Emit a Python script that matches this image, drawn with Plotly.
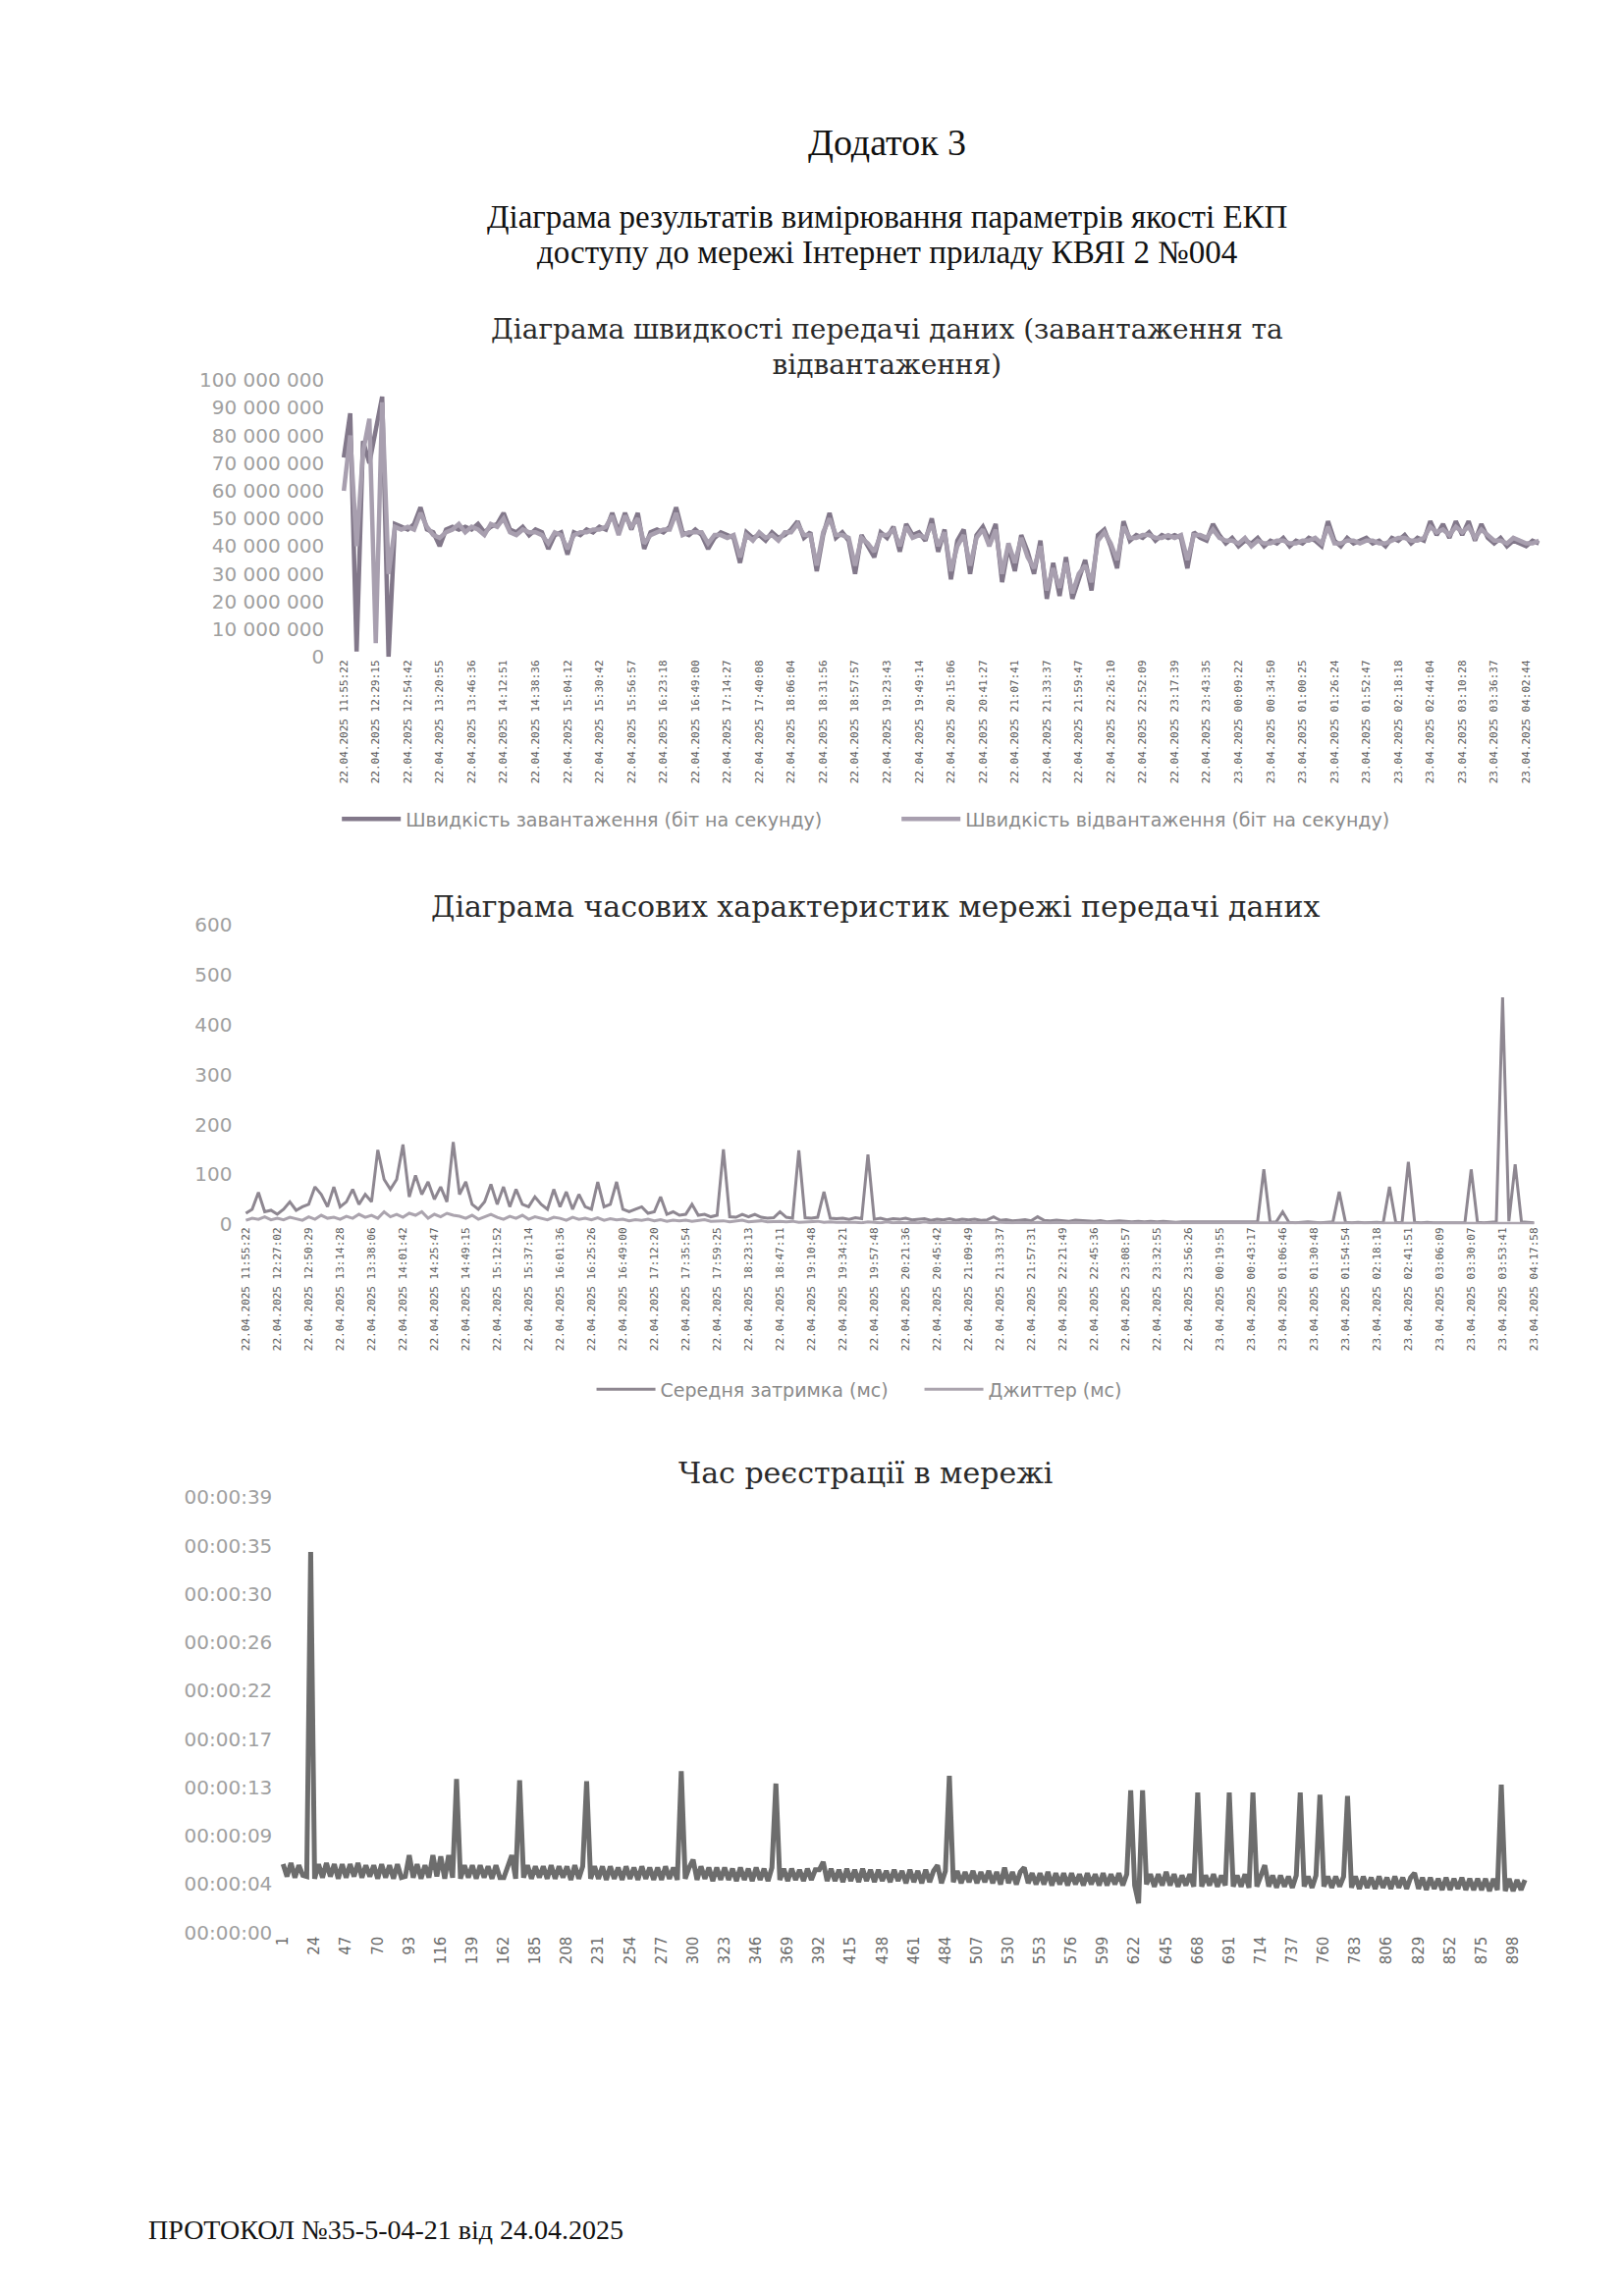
import plotly.graph_objects as go

# page size (px) of the scanned sheet; the html body keeps its default 8px margin,
# so the figure is made 16px smaller and page positions are shifted by that margin
W = 1653
H = 2339
BODY = 8
FW = W - 2 * BODY
FH = H - 2 * BODY

# ---------------- chart 1: download / upload speed (Mbit/s, 5 points per label step) ----------------
c1_labels = [
    "22.04.2025 11:55:22", "22.04.2025 12:29:15", "22.04.2025 12:54:42", "22.04.2025 13:20:55",
    "22.04.2025 13:46:36", "22.04.2025 14:12:51", "22.04.2025 14:38:36", "22.04.2025 15:04:12",
    "22.04.2025 15:30:42", "22.04.2025 15:56:57", "22.04.2025 16:23:18", "22.04.2025 16:49:00",
    "22.04.2025 17:14:27", "22.04.2025 17:40:08", "22.04.2025 18:06:04", "22.04.2025 18:31:56",
    "22.04.2025 18:57:57", "22.04.2025 19:23:43", "22.04.2025 19:49:14", "22.04.2025 20:15:06",
    "22.04.2025 20:41:27", "22.04.2025 21:07:41", "22.04.2025 21:33:37", "22.04.2025 21:59:47",
    "22.04.2025 22:26:10", "22.04.2025 22:52:09", "22.04.2025 23:17:39", "22.04.2025 23:43:35",
    "23.04.2025 00:09:22", "23.04.2025 00:34:50", "23.04.2025 01:00:25", "23.04.2025 01:26:24",
    "23.04.2025 01:52:47", "23.04.2025 02:18:18", "23.04.2025 02:44:04", "23.04.2025 03:10:28",
    "23.04.2025 03:36:37", "23.04.2025 04:02:44",
]
c1_names = ["Швидкість завантаження (біт на секунду)", "Швидкість відвантаження (біт на секунду)"]
c1_yticks = [0, 10e6, 20e6, 30e6, 40e6, 50e6, 60e6, 70e6, 80e6, 90e6, 100e6]
c1_ytext = ["0", "10 000 000", "20 000 000", "30 000 000", "40 000 000", "50 000 000",
            "60 000 000", "70 000 000", "80 000 000", "90 000 000", "100 000 000"]

download_mbps = [
    72, 88, 2, 78, 70,   82, 94, 0, 48, 47,   46, 48, 54, 46, 45,   40, 46, 47, 46, 47,
    46, 48, 45, 47, 48,  52, 46, 45, 47, 44,  46, 45, 39, 44, 45,   37, 45, 44, 46, 45,
    47, 46, 52, 45, 52,  46, 52, 39, 45, 46,  45, 47, 54, 45, 44,   46, 44, 39, 43, 45,
    44, 43, 34, 45, 43,  44, 42, 45, 43, 44,  46, 49, 43, 45, 31,   44, 52, 43, 45, 42,
    30, 44, 40, 36, 45,  43, 47, 38, 48, 44,  45, 42, 50, 38, 46,   28, 42, 46, 30, 44,
    47, 42, 48, 27, 40,  31, 44, 38, 30, 42,  21, 34, 22, 36, 21,   28, 35, 24, 44, 46,
    40, 32, 49, 42, 44,  43, 45, 42, 44, 43,  44, 43, 32, 45, 43,   42, 48, 44, 41, 43,
    40, 42, 41, 43, 40,  42, 41, 43, 40, 42,  41, 43, 42, 40, 49,   42, 40, 43, 41, 42,
    43, 41, 42, 40, 43,  42, 44, 41, 43, 42,  49, 44, 48, 43, 49,   44, 49, 42, 48, 43,
    41, 43, 40, 42, 41,  40, 42, 41,
]
upload_mbps = [
    60, 80, 40, 74, 86,  5, 92, 30, 47, 46,   47, 46, 52, 47, 44,   43, 45, 46, 48, 45,
    47, 46, 44, 48, 47,  50, 45, 44, 46, 45,  45, 44, 41, 45, 44,   39, 44, 45, 45, 46,
    46, 47, 51, 44, 51,  47, 50, 41, 44, 45,  46, 46, 52, 44, 45,   45, 45, 41, 44, 44,
    43, 44, 36, 44, 42,  45, 43, 44, 42, 45,  45, 48, 44, 44, 33,   45, 50, 44, 44, 43,
    33, 43, 41, 38, 44,  44, 46, 40, 47, 43,  44, 43, 48, 40, 45,   31, 40, 44, 33, 43,
    46, 40, 46, 30, 41,  34, 43, 36, 32, 40,  24, 32, 25, 34, 23,   30, 33, 27, 42, 45,
    41, 35, 47, 43, 43,  44, 44, 43, 43, 44,  43, 44, 35, 44, 44,   43, 46, 43, 42, 42,
    41, 43, 40, 42, 41,  41, 42, 42, 41, 41,  42, 42, 43, 41, 47,   41, 41, 42, 42, 41,
    42, 42, 41, 41, 42,  43, 43, 42, 42, 43,  47, 45, 46, 44, 47,   45, 47, 43, 46, 44,
    42, 42, 41, 43, 42,  41, 41, 42,
]

# ---------------- chart 2: latency / jitter (ms, 5 points per label step) ----------------
c2_labels = [
    "22.04.2025 11:55:22", "22.04.2025 12:27:02", "22.04.2025 12:50:29", "22.04.2025 13:14:28",
    "22.04.2025 13:38:06", "22.04.2025 14:01:42", "22.04.2025 14:25:47", "22.04.2025 14:49:15",
    "22.04.2025 15:12:52", "22.04.2025 15:37:14", "22.04.2025 16:01:36", "22.04.2025 16:25:26",
    "22.04.2025 16:49:00", "22.04.2025 17:12:20", "22.04.2025 17:35:54", "22.04.2025 17:59:25",
    "22.04.2025 18:23:13", "22.04.2025 18:47:11", "22.04.2025 19:10:48", "22.04.2025 19:34:21",
    "22.04.2025 19:57:48", "22.04.2025 20:21:36", "22.04.2025 20:45:42", "22.04.2025 21:09:49",
    "22.04.2025 21:33:37", "22.04.2025 21:57:31", "22.04.2025 22:21:49", "22.04.2025 22:45:36",
    "22.04.2025 23:08:57", "22.04.2025 23:32:55", "22.04.2025 23:56:26", "23.04.2025 00:19:55",
    "23.04.2025 00:43:17", "23.04.2025 01:06:46", "23.04.2025 01:30:48", "23.04.2025 01:54:54",
    "23.04.2025 02:18:18", "23.04.2025 02:41:51", "23.04.2025 03:06:09", "23.04.2025 03:30:07",
    "23.04.2025 03:53:41", "23.04.2025 04:17:58",
]
c2_names = ["Середня затримка (мс)", "Джиттер (мс)"]
c2_yticks = [0, 100, 200, 300, 400, 500, 600]

latency_ms = [
    22, 30, 64, 25, 28,   20, 30, 45, 28, 35,   40, 75, 60, 35, 75,   35, 45, 70, 40, 60,
    45, 149, 90, 70, 90,  160, 55, 98, 60, 85,  50, 75, 45, 165, 60,  85, 40, 30, 45, 80,
    40, 75, 35, 70, 40,   35, 55, 40, 30, 70,   35, 65, 30, 60, 35,   30, 85, 35, 40, 85,
    30, 25, 30, 35, 22,   25, 55, 20, 25, 18,   20, 40, 18, 20, 15,   18, 150, 15, 14, 20,
    15, 20, 14, 12, 13,   25, 14, 12, 148, 13,  12, 14, 65, 12, 11,   12, 10, 13, 11, 140,
    10, 12, 9, 11, 10,    12, 9, 10, 11, 8,     10, 9, 11, 8, 10,     9, 10, 8, 9, 15,
    8, 9, 7, 8, 9,        7, 15, 8, 7, 8,       7, 6, 8, 7, 6,        6, 7, 5, 6, 7,
    6, 5, 6, 5, 6,        5, 6, 5, 4, 5,        5, 4, 5, 4, 5,        4, 5, 4, 5, 4,
    4, 5, 110, 4, 5,      25, 4, 3, 4, 5,       4, 3, 4, 5, 65,       4, 3, 4, 3, 4,
    4, 3, 75, 4, 3,       125, 4, 3, 4, 3,      3, 4, 3, 4, 3,        110, 4, 3, 4, 5,
    455, 6, 120, 5, 4,    3,
]
jitter_ms = [
    8, 12, 10, 15, 9,     12, 9, 14, 11, 8,     15, 10, 18, 12, 14,   10, 16, 12, 20, 14,
    18, 12, 25, 15, 20,   14, 22, 18, 25, 12,   20, 15, 22, 18, 16,   12, 18, 10, 15, 20,
    14, 10, 16, 12, 18,   10, 15, 12, 9, 14,    12, 8, 14, 10, 12,    9, 13, 8, 11, 9,
    10, 7, 9, 8, 10,      7, 9, 6, 8, 7,        8, 6, 7, 9, 6,        6, 7, 5, 6, 8,
    5, 6, 7, 5, 6,        6, 5, 6, 4, 5,        5, 6, 4, 5, 4,        4, 5, 4, 3, 5,
    4, 3, 5, 3, 4,        3, 4, 3, 5, 3,        4, 3, 4, 3, 4,        3, 4, 3, 4, 3,
    4, 3, 3, 4, 3,        3, 4, 3, 3, 4,        3, 3, 4, 3, 3,        3, 4, 3, 3, 2,
    3, 2, 3, 3, 2,        2, 3, 2, 3, 2,        3, 2, 2, 3, 2,        2, 3, 2, 2, 3,
    2, 2, 3, 2, 2,        3, 2, 2, 3, 2,        2, 2, 3, 2, 2,        2, 3, 2, 2, 3,
    2, 2, 3, 2, 2,        3, 2, 2, 3, 2,        2, 3, 2, 2, 3,        2, 2, 3, 2, 2,
    3, 2, 2, 3, 2,        2,
]

# ---------------- chart 3: registration time (seconds, 8 points per label step) ----------------
c3_labels = ["1", "24", "47", "70", "93", "116", "139", "162", "185", "208", "231", "254", "277",
             "300", "323", "346", "369", "392", "415", "438", "461", "484", "507", "530", "553",
             "576", "599", "622", "645", "668", "691", "714", "737", "760", "783", "806", "829",
             "852", "875", "898"]
c3_yticks = [0, 4.32, 8.64, 12.96, 17.28, 21.6, 25.92, 30.24, 34.56, 38.88]
c3_ytext = ["00:00:00", "00:00:04", "00:00:09", "00:00:13", "00:00:17", "00:00:22",
            "00:00:26", "00:00:30", "00:00:35", "00:00:39"]

reg_time_s = [
    6.1, 5.0, 6.2, 4.9, 6.0, 5.1, 5.0, 34.0,   4.8, 6.1, 4.9, 6.2, 5.0, 6.1, 4.8, 6.1,
    4.9, 6.1, 5.0, 6.2, 4.9, 6.0, 5.0, 6.0,    4.8, 6.1, 4.9, 6.0, 4.8, 6.1, 4.9, 5.0,
    6.9, 4.9, 6.1, 4.8, 6.0, 4.9, 6.9, 5.0,    6.8, 4.8, 6.9, 4.9, 13.7, 4.8, 6.0, 4.9,
    6.0, 4.8, 6.0, 4.9, 5.9, 4.8, 6.0, 4.9,    4.9, 5.9, 6.9, 4.8, 13.6, 4.9, 6.0, 4.8,
    5.9, 4.9, 5.9, 4.8, 6.0, 4.8, 5.9, 4.9,    5.9, 4.7, 6.0, 4.8, 5.9, 13.5, 4.8, 5.9,
    4.8, 5.9, 4.7, 5.9, 4.8, 5.8, 4.7, 5.9,    4.8, 5.8, 4.7, 5.9, 4.8, 5.8, 4.7, 5.8,
    4.7, 5.9, 4.8, 5.8, 4.7, 14.4, 4.8, 5.8,   6.5, 4.7, 5.9, 4.8, 5.8, 4.6, 5.8, 4.7,
    5.8, 4.7, 5.7, 4.6, 5.8, 4.7, 5.7, 4.6,    5.8, 4.7, 5.7, 4.6, 5.8, 13.3, 4.7, 5.7,
    4.6, 5.7, 4.7, 5.6, 4.6, 5.7, 4.7, 5.6,    5.6, 6.3, 4.6, 5.7, 4.6, 5.6, 4.5, 5.7,
    4.6, 5.6, 4.5, 5.7, 4.6, 5.6, 4.5, 5.6,    4.6, 5.5, 4.5, 5.6, 4.6, 5.5, 4.4, 5.6,
    4.5, 5.5, 4.4, 5.6, 4.5, 5.5, 6.0, 4.4,    5.5, 14.0, 4.5, 5.5, 4.4, 5.4, 4.5, 5.5,
    4.4, 5.4, 4.5, 5.5, 4.4, 5.4, 4.3, 5.8,    4.4, 5.4, 4.3, 5.4, 5.8, 4.4, 5.3, 4.3,
    5.3, 4.3, 5.4, 4.2, 5.3, 4.3, 5.3, 4.2,    5.3, 4.3, 5.2, 4.2, 5.3, 4.3, 5.2, 4.2,
    5.3, 4.2, 5.2, 4.3, 5.3, 4.2, 5.2, 12.7,   4.2, 2.6, 12.7, 4.3, 5.2, 4.1, 5.2, 4.2,
    5.4, 4.2, 5.2, 4.1, 5.1, 4.2, 5.2, 4.1,    12.5, 4.1, 5.1, 4.2, 5.2, 4.1, 5.1, 4.2,
    12.5, 4.1, 5.1, 4.1, 5.2, 4.0, 12.5, 4.1,  5.1, 6.0, 4.1, 5.1, 4.0, 5.1, 4.1, 5.0,
    4.0, 5.1, 12.5, 4.1, 5.0, 4.0, 5.1, 12.3,  4.1, 5.0, 4.0, 5.0, 4.1, 5.0, 12.2, 4.0,
    5.0, 3.9, 5.0, 4.0, 4.9, 3.9, 5.0, 4.0,    4.9, 3.9, 5.0, 4.0, 4.9, 3.9, 4.9, 5.3,
    3.9, 4.9, 3.8, 4.9, 3.9, 4.8, 3.8, 4.9,    3.8, 4.8, 3.9, 4.9, 3.8, 4.8, 3.8, 4.8,
    3.8, 4.8, 3.7, 4.8, 3.8, 13.2, 3.7, 4.8,   3.7, 4.7, 3.8, 4.7,
]

# points per tick label in each reduced series
c1_step = 5
c2_step = 5
c3_step = 8


def px_x(p):
    # page pixel -> paper fraction
    return (p - BODY) / FW


def px_y(p):
    return 1 - (p - BODY) / FH


tick_font_y = dict(family="DejaVu Sans", size=20, color="#a0a0a0")
tick_font_x = dict(family="DejaVu Sans Mono", size=11, color="#5a5a5a")
legend_font = dict(family="DejaVu Sans", size=19, color="#8a8a8a")

fig = go.Figure()

# chart 1 lines
fig.add_trace(go.Scatter(
    x=list(range(len(download_mbps))), y=[v * 1e6 for v in download_mbps],
    mode="lines", name=c1_names[0], line=dict(color="#82788a", width=4.5),
    xaxis="x", yaxis="y", legend="legend"))
fig.add_trace(go.Scatter(
    x=list(range(len(upload_mbps))), y=[v * 1e6 for v in upload_mbps],
    mode="lines", name=c1_names[1], line=dict(color="#a89faf", width=4.5),
    xaxis="x", yaxis="y", legend="legend"))

# chart 2 lines
fig.add_trace(go.Scatter(
    x=list(range(len(latency_ms))), y=latency_ms,
    mode="lines", name=c2_names[0], line=dict(color="#8e8791", width=3),
    xaxis="x2", yaxis="y2", legend="legend2"))
fig.add_trace(go.Scatter(
    x=list(range(len(jitter_ms))), y=jitter_ms,
    mode="lines", name=c2_names[1], line=dict(color="#aba4ae", width=3),
    xaxis="x2", yaxis="y2", legend="legend2"))

# chart 3 line
fig.add_trace(go.Scatter(
    x=list(range(len(reg_time_s))), y=reg_time_s,
    mode="lines", name="Час реєстрації", line=dict(color="#6d6d6d", width=5),
    xaxis="x3", yaxis="y3", showlegend=False))

axis_common = dict(showgrid=False, zeroline=False, showline=False, ticks="")

fig.update_layout(
    width=FW, height=FH,
    margin=dict(l=0, r=0, t=0, b=0),
    paper_bgcolor="white", plot_bgcolor="white",
    showlegend=True,
    # chart 1 axes
    xaxis=dict(domain=[px_x(338), px_x(1590)], range=[-1.38, 190.5], anchor="y",
               tickmode="array", tickvals=[i * c1_step for i in range(len(c1_labels))],
               ticktext=c1_labels, tickangle=-90, tickfont=tick_font_x, **axis_common),
    yaxis=dict(domain=[px_y(664), px_y(379)], range=[0, 100e6], anchor="x",
               tickmode="array", tickvals=c1_yticks, ticktext=c1_ytext,
               tickfont=tick_font_y, ticklabelstandoff=10, **axis_common),
    # chart 2 axes
    xaxis2=dict(domain=[px_x(240), px_x(1575)], range=[-1.09, 207.0], anchor="y2",
                tickmode="array", tickvals=[i * c2_step for i in range(len(c2_labels))],
                ticktext=c2_labels, tickangle=-90, tickfont=tick_font_x, **axis_common),
    yaxis2=dict(domain=[px_y(1248), px_y(940)], range=[0, 600], anchor="x2",
                tickmode="array", tickvals=c2_yticks,
                tickfont=tick_font_y, ticklabelstandoff=6, **axis_common),
    # chart 3 axes
    xaxis3=dict(domain=[px_x(280), px_x(1565)], range=[-1.24, 318.0], anchor="y3",
                tickmode="array", tickvals=[i * c3_step for i in range(len(c3_labels))],
                ticktext=c3_labels, tickangle=-90,
                tickfont=dict(family="DejaVu Sans", size=15, color="#6a6a6a"), **axis_common),
    yaxis3=dict(domain=[px_y(1977), px_y(1529)], range=[0, 38.88], anchor="x3",
                tickmode="array", tickvals=c3_yticks, ticktext=c3_ytext,
                tickfont=tick_font_y, ticklabelstandoff=5, **axis_common),
    legend=dict(orientation="h", x=px_x(340), y=px_y(831), xanchor="left", yanchor="middle",
                font=legend_font, itemwidth=60, entrywidth=495, entrywidthmode="pixels",
                bgcolor="rgba(0,0,0,0)"),
    legend2=dict(orientation="h", x=px_x(600), y=px_y(1418), xanchor="left", yanchor="middle",
                 font=legend_font, itemwidth=60, entrywidth=259, entrywidthmode="pixels",
                 bgcolor="rgba(0,0,0,0)"),
)

serif = "Liberation Serif"
chart_title_font = dict(family="DejaVu Serif", size=30, color="#2a2a2a")

texts = [
    # text, x px, y px, font, anchor
    ("Додаток 3", 902, 134, dict(family=serif, size=38, color="#111111"), "center"),
    ("Діаграма результатів вимірювання параметрів якості ЕКП", 902, 211,
     dict(family=serif, size=33, color="#111111"), "center"),
    ("доступу до мережі Інтернет приладу КВЯІ 2 №004", 902, 247,
     dict(family=serif, size=33, color="#111111"), "center"),
    ("Діаграма швидкості передачі даних (завантаження та<br>відвантаження)", 902, 345,
     dict(family="DejaVu Serif", size=28, color="#2a2a2a"), "center"),
    ("Діаграма часових характеристик мережі передачі даних", 890, 921, chart_title_font, "center"),
    ("Час реєстрації в мережі", 880, 1504, chart_title_font, "center"),
    ("ПРОТОКОЛ №35-5-04-21 від 24.04.2025", 145, 2283,
     dict(family=serif, size=28, color="#111111"), "left"),
]
for t, x, y, f, anchor in texts:
    fig.add_annotation(text=t, x=px_x(x), y=px_y(y), xref="paper", yref="paper",
                       xanchor=anchor, yanchor="middle", showarrow=False, font=f)

fig.write_html("out.html")
print("saved out.html")
